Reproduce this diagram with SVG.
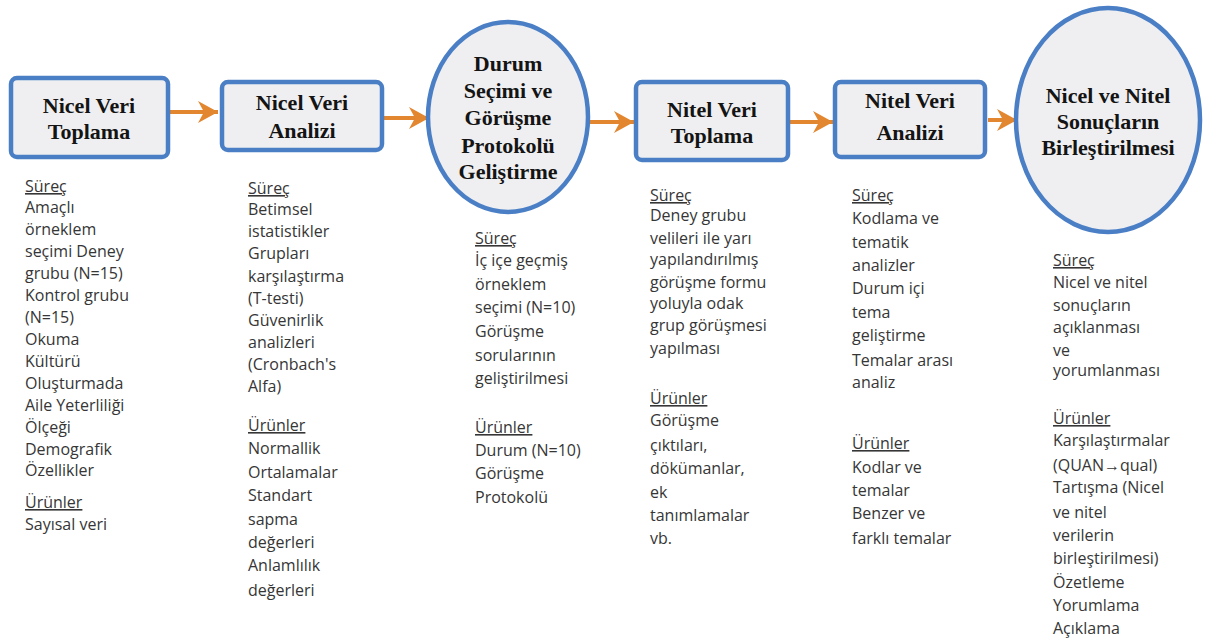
<svg xmlns="http://www.w3.org/2000/svg" width="1205" height="641" viewBox="0 0 1205 641">
<style>
.box{fill:#efeff1;stroke:#4a7fc6;stroke-width:4.5}
.ttl{font-family:"Liberation Serif","Times New Roman",serif;font-weight:bold;font-size:22px;fill:#141414;text-anchor:middle}
.body{font-family:"Open Sans","Noto Sans",sans-serif;font-size:16px;fill:#363636}
.u{text-decoration:underline}
.conn{stroke:#e2862f;stroke-width:4;fill:none}
</style>
<defs>
<marker id="ah" markerUnits="userSpaceOnUse" markerWidth="22" markerHeight="24" refX="20" refY="12" orient="auto" viewBox="0 0 22 24">
<path d="M0,1 L20,12 L0,23 L6,12 z" fill="#e2862f"/>
</marker>
</defs>
<rect width="1205" height="641" fill="#ffffff"/>
<g id="connectors">
<line class="conn" x1="170" y1="112" x2="218" y2="112" marker-end="url(#ah)"/>
<line class="conn" x1="384" y1="118" x2="429" y2="118" marker-end="url(#ah)"/>
<line class="conn" x1="590" y1="122" x2="634" y2="122" marker-end="url(#ah)"/>
<line class="conn" x1="790" y1="122" x2="833" y2="122" marker-end="url(#ah)"/>
<line class="conn" x1="988" y1="120" x2="1017" y2="120" marker-end="url(#ah)"/>
</g>
<g id="n1">
<rect class="box" x="11" y="78" width="157" height="79" rx="6"/>
<text class="ttl" x="89" y="113">Nicel Veri</text>
<text class="ttl" x="89" y="139">Toplama</text>
<text class="body" x="25"><tspan class="u" x="25" y="192">Süreç</tspan><tspan x="25" y="213">Amaçlı</tspan><tspan x="25" y="235">örneklem</tspan><tspan x="25" y="257">seçimi Deney</tspan><tspan x="25" y="279">grubu (N=15)</tspan><tspan x="25" y="301">Kontrol grubu</tspan><tspan x="25" y="323">(N=15)</tspan><tspan x="25" y="345">Okuma</tspan><tspan x="25" y="367">Kültürü</tspan><tspan x="25" y="389">Oluşturmada</tspan><tspan x="25" y="411">Aile Yeterliliği</tspan><tspan x="25" y="433">Ölçeği</tspan><tspan x="25" y="455">Demografik</tspan><tspan x="25" y="476">Özellikler</tspan><tspan class="u" x="25" y="508">Ürünler</tspan><tspan x="25" y="530">Sayısal veri</tspan></text>
</g>
<g id="n2">
<rect class="box" x="222" y="82" width="160" height="68" rx="6"/>
<text class="ttl" x="302" y="110">Nicel Veri</text>
<text class="ttl" x="302" y="138">Analizi</text>
<text class="body"><tspan class="u" x="248" y="194">Süreç</tspan><tspan x="248" y="215">Betimsel</tspan><tspan x="248" y="237">istatistikler</tspan><tspan x="248" y="259">Grupları</tspan><tspan x="248" y="282">karşılaştırma</tspan><tspan x="248" y="304">(T-testi)</tspan><tspan x="248" y="326">Güvenirlik</tspan><tspan x="248" y="348">analizleri</tspan><tspan x="248" y="370">(Cronbach's</tspan><tspan x="248" y="392">Alfa)</tspan><tspan class="u" x="248" y="431">Ürünler</tspan><tspan x="248" y="454">Normallik</tspan><tspan x="248" y="478">Ortalamalar</tspan><tspan x="248" y="501">Standart</tspan><tspan x="248" y="525">sapma</tspan><tspan x="248" y="548">değerleri</tspan><tspan x="248" y="571">Anlamlılık</tspan><tspan x="248" y="596">değerleri</tspan></text>
</g>
<g id="n3">
<ellipse class="box" cx="508" cy="117" rx="80" ry="95"/>
<text class="ttl" x="508" y="71">Durum</text>
<text class="ttl" x="508" y="98">Seçimi ve</text>
<text class="ttl" x="508" y="125">Görüşme</text>
<text class="ttl" x="508" y="153">Protokolü</text>
<text class="ttl" x="508" y="179">Geliştirme</text>
<text class="body"><tspan class="u" x="475" y="244">Süreç</tspan><tspan x="475" y="266">İç içe geçmiş</tspan><tspan x="475" y="290">örneklem</tspan><tspan x="475" y="313">seçimi (N=10)</tspan><tspan x="475" y="337">Görüşme</tspan><tspan x="475" y="361">sorularının</tspan><tspan x="475" y="384">geliştirilmesi</tspan><tspan class="u" x="475" y="433">Ürünler</tspan><tspan x="475" y="456">Durum (N=10)</tspan><tspan x="475" y="479">Görüşme</tspan><tspan x="475" y="503">Protokolü</tspan></text>
</g>
<g id="n4">
<rect class="box" x="636" y="82" width="152" height="78" rx="6"/>
<text class="ttl" x="712" y="117">Nitel Veri</text>
<text class="ttl" x="712" y="143">Toplama</text>
<text class="body"><tspan class="u" x="650" y="201">Süreç</tspan><tspan x="650" y="221">Deney grubu</tspan><tspan x="650" y="244">velileri ile yarı</tspan><tspan x="650" y="265">yapılandırılmış</tspan><tspan x="650" y="288">görüşme formu</tspan><tspan x="650" y="309">yoluyla odak</tspan><tspan x="650" y="331">grup görüşmesi</tspan><tspan x="650" y="354">yapılması</tspan><tspan class="u" x="650" y="404">Ürünler</tspan><tspan x="650" y="426">Görüşme</tspan><tspan x="650" y="451">çıktıları,</tspan><tspan x="650" y="474">dökümanlar,</tspan><tspan x="650" y="498">ek</tspan><tspan x="650" y="521">tanımlamalar</tspan><tspan x="650" y="544">vb.</tspan></text>
</g>
<g id="n5">
<rect class="box" x="835" y="82" width="150" height="75" rx="6"/>
<text class="ttl" x="910" y="108">Nitel Veri</text>
<text class="ttl" x="910" y="140">Analizi</text>
<text class="body"><tspan class="u" x="852" y="201">Süreç</tspan><tspan x="852" y="224">Kodlama ve</tspan><tspan x="852" y="248">tematik</tspan><tspan x="852" y="271">analizler</tspan><tspan x="852" y="294">Durum içi</tspan><tspan x="852" y="318">tema</tspan><tspan x="852" y="341">geliştirme</tspan><tspan x="852" y="366">Temalar arası</tspan><tspan x="852" y="388">analiz</tspan><tspan class="u" x="852" y="449">Ürünler</tspan><tspan x="852" y="473">Kodlar ve</tspan><tspan x="852" y="496">temalar</tspan><tspan x="852" y="519">Benzer ve</tspan><tspan x="852" y="544">farklı temalar</tspan></text>
</g>
<g id="n6">
<ellipse class="box" cx="1108" cy="120" rx="92" ry="112"/>
<text class="ttl" x="1108" y="103">Nicel ve Nitel</text>
<text class="ttl" x="1108" y="129">Sonuçların</text>
<text class="ttl" x="1108" y="155">Birleştirilmesi</text>
<text class="body"><tspan class="u" x="1053" y="266">Süreç</tspan><tspan x="1053" y="288">Nicel ve nitel</tspan><tspan x="1053" y="311">sonuçların</tspan><tspan x="1053" y="333">açıklanması</tspan><tspan x="1053" y="356">ve</tspan><tspan x="1053" y="376">yorumlanması</tspan><tspan class="u" x="1053" y="424">Ürünler</tspan><tspan x="1053" y="446">Karşılaştırmalar</tspan><tspan x="1053" y="471">(QUAN→qual)</tspan><tspan x="1053" y="493">Tartışma (Nicel</tspan><tspan x="1053" y="518">ve nitel</tspan><tspan x="1053" y="541">verilerin</tspan><tspan x="1053" y="564">birleştirilmesi)</tspan><tspan x="1053" y="588">Özetleme</tspan><tspan x="1053" y="611">Yorumlama</tspan><tspan x="1053" y="634">Açıklama</tspan></text>
</g>
</svg>
